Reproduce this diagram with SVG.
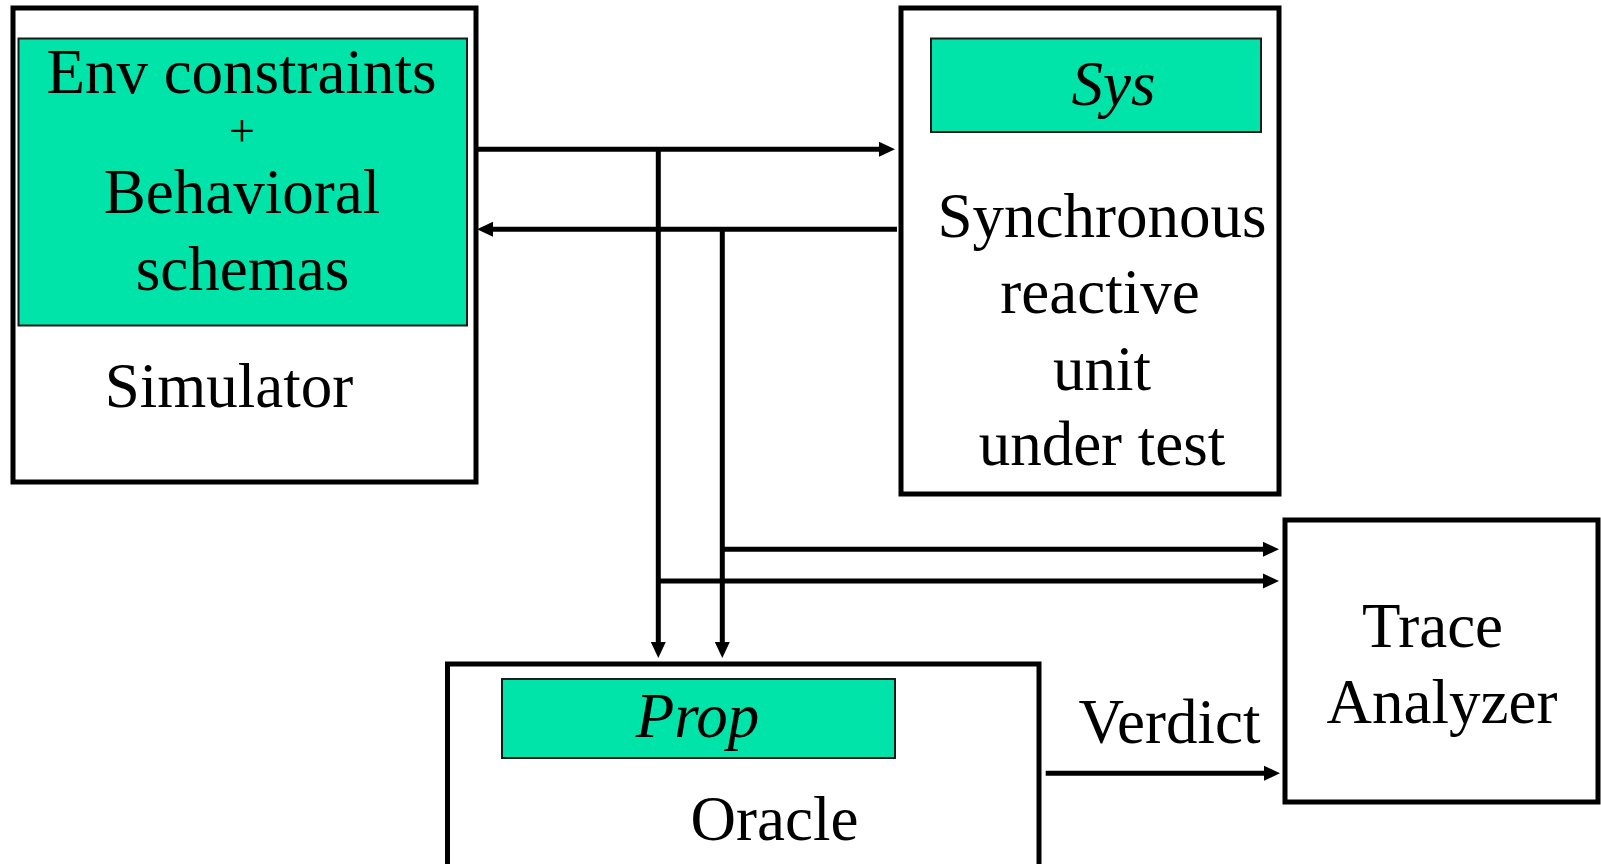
<svg xmlns="http://www.w3.org/2000/svg" width="1601" height="864" viewBox="0 0 1601 864">
<style>
.box{fill:#ffffff;stroke:#000000;stroke-width:5}
.inner{fill:#00E3A9;stroke:#1a1a1a;stroke-width:2}
.t{font-family:"Liberation Serif","Times New Roman",serif;font-size:63px;fill:#000000;text-anchor:middle}
.it{font-style:italic}
.c{fill:none;stroke:#000000;stroke-width:5}
</style>
<defs>
<marker id="ah" markerUnits="userSpaceOnUse" markerWidth="16" markerHeight="16" refX="0" refY="7.5" orient="auto" viewBox="0 0 16 15">
<path d="M0,0 L16,7.5 L0,15 z" fill="#000000"/>
</marker>
</defs>
<rect width="1601" height="864" fill="#ffffff"/>
<g id="simulator">
<rect class="box" x="13" y="8" width="463" height="474"/>
<rect class="inner" x="18.5" y="38.5" width="448.5" height="287"/>
<text class="t" x="241.5" y="93">Env constraints</text>
<text class="t" x="242" y="146" style="font-size:46px">+</text>
<text class="t" x="242" y="213">Behavioral</text>
<text class="t" x="242.5" y="290">schemas</text>
<text class="t" x="229" y="407">Simulator</text>
</g>
<g id="sut">
<rect class="box" x="901" y="8" width="378" height="486"/>
<rect class="inner" x="931" y="38.5" width="330" height="93.5"/>
<text class="t it" x="1113.5" y="105">Sys</text>
<text class="t" x="1102" y="237">Synchronous</text>
<text class="t" x="1100" y="313">reactive</text>
<text class="t" x="1102" y="390">unit</text>
<text class="t" x="1102" y="465">under test</text>
</g>
<g id="oracle">
<rect class="box" x="447.5" y="664" width="591.5" height="230"/>
<rect class="inner" x="502" y="679" width="393" height="79"/>
<text class="t it" x="697.5" y="737">Prop</text>
<text class="t" x="774.5" y="840">Oracle</text>
</g>
<g id="trace-analyzer">
<rect class="box" x="1285" y="520" width="313" height="282"/>
<text class="t" x="1432.5" y="647">Trace</text>
<text class="t" x="1442" y="723">Analyzer</text>
</g>
<g id="connectors">
<path class="c" d="M476,149.3 H879" marker-end="url(#ah)"/>
<path class="c" d="M897,229.3 H493" marker-end="url(#ah)"/>
<path class="c" d="M658.3,149.3 V642" marker-end="url(#ah)"/>
<path class="c" d="M722.3,229.3 V642" marker-end="url(#ah)"/>
<path class="c" d="M722.3,549.3 H1263" marker-end="url(#ah)"/>
<path class="c" d="M658.3,581 H1263" marker-end="url(#ah)"/>
<path class="c" d="M1045.7,773.3 H1264" marker-end="url(#ah)"/>
<text class="t" x="1169.5" y="743">Verdict</text>
</g>
</svg>
